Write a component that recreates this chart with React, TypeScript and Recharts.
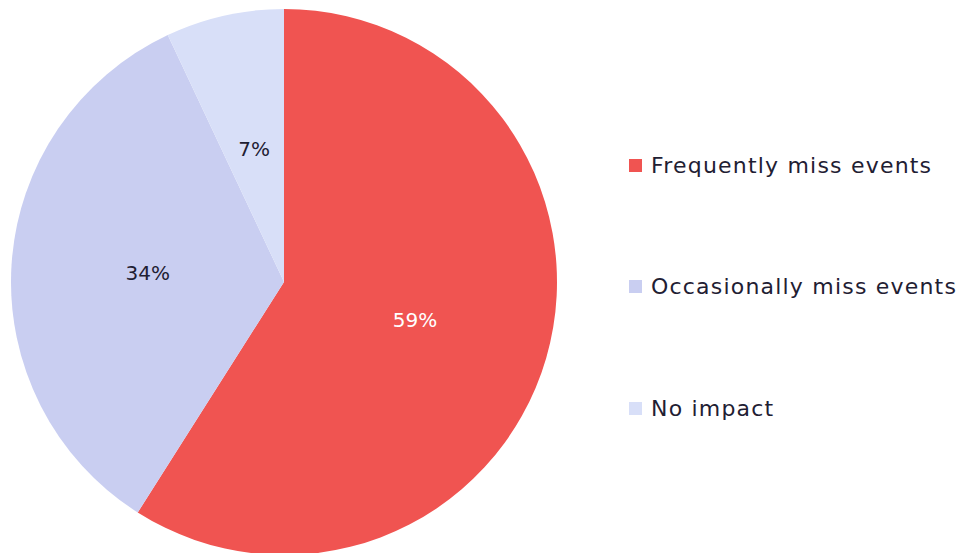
import { Cell, Legend, Pie, PieChart } from 'recharts';

const categories = ['Frequently miss events', 'Occasionally miss events', 'No impact'];
const shares = [59, 34, 7];
const colors = ['#F05451', '#C9CEF1', '#D8DFF8'];
const labelColors = ['#FFFFFF', '#1F2033', '#1F2033'];

const data = categories.map((name, i) => ({ name, value: shares[i] }));

const RADIAN = Math.PI / 180;
const FONT = "'DejaVu Sans', sans-serif";

function renderLabel(props: any) {
  const { cx, cy, midAngle, outerRadius, index, value } = props;
  const r = outerRadius * 0.5;
  const x = cx + r * Math.cos(-midAngle * RADIAN);
  const y = cy + r * Math.sin(-midAngle * RADIAN);
  return (
    <text
      x={x}
      y={y}
      fill={labelColors[index]}
      textAnchor="middle"
      dominantBaseline="central"
      fontSize={20}
      fontFamily={FONT}
    >
      {value}%
    </text>
  );
}

function LegendBox() {
  return (
    <div style={{ fontFamily: FONT, color: '#1F2033' }}>
      {categories.map((name, i) => (
        <div
          key={name}
          style={{ display: 'flex', alignItems: 'center', height: 30, marginBottom: i < categories.length - 1 ? 91.5 : 0 }}
        >
          <span style={{ width: 13, height: 13, background: colors[i], marginRight: 9, display: 'inline-block' }} />
          <span style={{ fontSize: 22, letterSpacing: 1.2 }}>{name}</span>
        </div>
      ))}
    </div>
  );
}

export default function App() {
  return (
    <div style={{ position: 'absolute', left: 0, top: 0 }}>
      <PieChart width={961} height={553} margin={{ top: 0, right: 0, bottom: 0, left: 0 }}>
        <Pie
          data={data}
          dataKey="value"
          nameKey="name"
          cx={284}
          cy={282}
          outerRadius={273}
          startAngle={90}
          endAngle={-270}
          stroke="none"
          label={renderLabel}
          labelLine={false}
          isAnimationActive={false}
        >
          {data.map((d, i) => (
            <Cell key={d.name} fill={colors[i]} />
          ))}
        </Pie>
        <Legend
          content={<LegendBox />}
          wrapperStyle={{ position: 'absolute', left: 629, top: 150, width: 330 }}
        />
      </PieChart>
    </div>
  );
}
